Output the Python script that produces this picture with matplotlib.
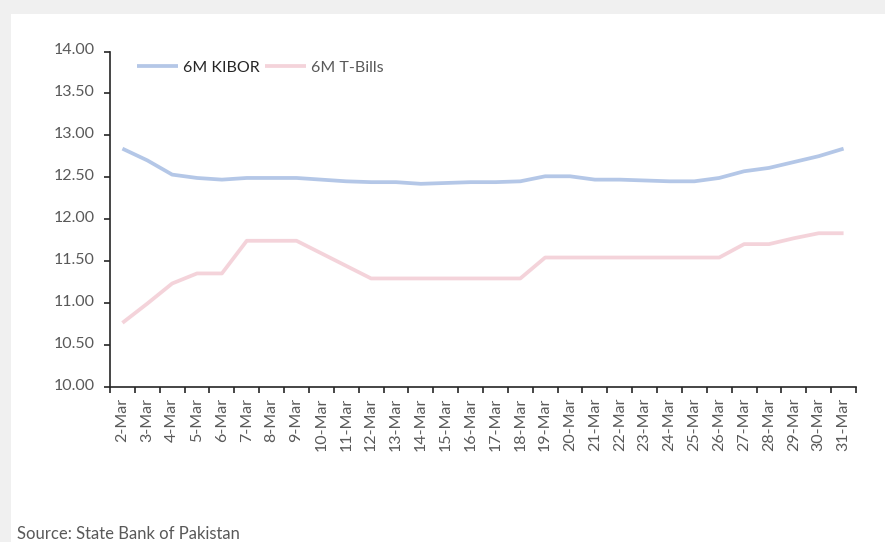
import matplotlib
matplotlib.use("Agg")
import matplotlib.pyplot as plt
from matplotlib.patches import Rectangle
from matplotlib.transforms import ScaledTranslation
from matplotlib.ticker import FixedLocator, NullFormatter, FixedFormatter

plt.rcParams['font.family'] = ['Lato', 'DejaVu Sans']

dates = [f"{d}-Mar" for d in range(2, 32)]
kibor = [12.84, 12.70, 12.53, 12.49, 12.47, 12.49, 12.49, 12.49, 12.47, 12.45,
         12.44, 12.44, 12.42, 12.43, 12.44, 12.44, 12.45, 12.51, 12.51, 12.47,
         12.47, 12.46, 12.45, 12.45, 12.49, 12.57, 12.61, 12.68, 12.75, 12.84]
tbills = [10.76, 10.99, 11.23, 11.35, 11.35, 11.74, 11.74, 11.74, 11.59, 11.44,
          11.29, 11.29, 11.29, 11.29, 11.29, 11.29, 11.29, 11.54, 11.54, 11.54,
          11.54, 11.54, 11.54, 11.54, 11.54, 11.70, 11.70, 11.77, 11.83, 11.83]
y_ticks = [10.0, 10.5, 11.0, 11.5, 12.0, 12.5, 13.0, 13.5, 14.0]

W, H = 885, 542
fig = plt.figure(figsize=(W / 100, H / 100), dpi=100)
fig.patch.set_facecolor('#F0F0F0')
fig.add_artist(Rectangle((11 / W, 0), 1 - 11 / W, 1 - 14 / H,
                         transform=fig.transFigure, facecolor='white',
                         edgecolor='none', zorder=0))

ax = fig.add_axes([110 / W, 1 - 386.5 / H, 746 / W, 335 / H])
ax.set_facecolor('none')

x = list(range(len(dates)))
ax.plot(x, kibor, color='#B4C7E7', lw=2.7, label='6M KIBOR', solid_capstyle='butt')
ax.plot(x, tbills, color='#F4D3DA', lw=2.7, label='6M T-Bills', solid_capstyle='butt')

ax.set_xlim(-0.5, len(dates) - 0.5)
ax.set_ylim(10, 14)

# category boundaries carry the tick marks, centres carry the labels
ax.xaxis.set_major_locator(FixedLocator([i - 0.5 for i in range(len(dates) + 1)]))
ax.xaxis.set_major_formatter(NullFormatter())
ax.xaxis.set_minor_locator(FixedLocator(x))
ax.xaxis.set_minor_formatter(FixedFormatter(dates))
ax.tick_params(axis='x', which='major', length=4, width=1.2, color='#262626', direction='out')
ax.tick_params(axis='x', which='minor', length=0, pad=8, labelsize=11.5,
               labelcolor='#595959', labelrotation=90)

ax.set_yticks(y_ticks)
ax.set_yticklabels([f"{v:.2f}" for v in y_ticks])
ax.tick_params(axis='y', length=4, width=1.2, color='#262626', direction='out',
               labelsize=11.5, labelcolor='#595959', pad=7)
# value labels sit a touch above their tick marks
lift = ScaledTranslation(0, 2.5 / 100, fig.dpi_scale_trans)
for lbl in ax.get_yticklabels():
    lbl.set_transform(lbl.get_transform() + lift)

for s in ['top', 'right']:
    ax.spines[s].set_visible(False)
for s in ['left', 'bottom']:
    ax.spines[s].set_color('#262626')
    ax.spines[s].set_linewidth(1.2)

leg = ax.legend(loc='upper left', bbox_to_anchor=(0.036, 0.973), ncol=2, frameon=False,
                fontsize=11.5, handlelength=2.6, handletextpad=0.3, columnspacing=0.3,
                borderpad=0, borderaxespad=0)
for t, c in zip(leg.get_texts(), ['#262626', '#595959']):
    t.set_color(c)

fig.text(17 / W, 1 - 541.8 / H, 'Source: State Bank of Pakistan', fontsize=12,
         color='#595959', ha='left', va='bottom')

fig.savefig('out.png', dpi=100, facecolor=fig.get_facecolor())
